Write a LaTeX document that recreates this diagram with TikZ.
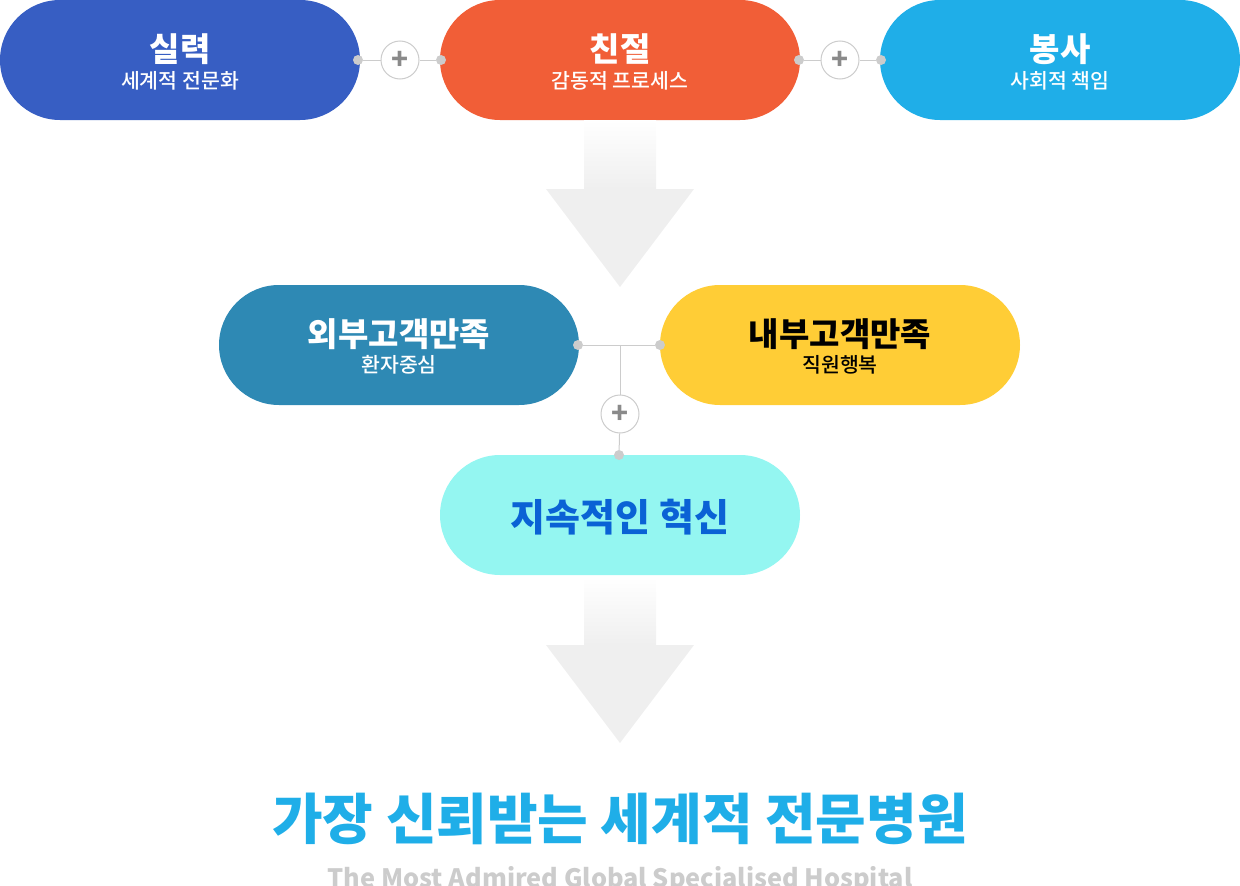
\documentclass[tikz,border=0pt]{standalone}
\usepackage{fontspec}
\setmainfont{Noto Sans CJK KR}
\newfontfamily\krmed{Noto Sans CJK KR Medium}
\usetikzlibrary{shadings}
\definecolor{skillblue}{HTML}{375EC3}
\definecolor{kindorange}{HTML}{F15E37}
\definecolor{servesky}{HTML}{1FAEE8}
\definecolor{outerteal}{HTML}{2E89B4}
\definecolor{inneryellow}{HTML}{FFCD36}
\definecolor{innovcyan}{HTML}{94F6F1}
\definecolor{innovtext}{HTML}{0A62D5}
\definecolor{linegray}{HTML}{CCCCCC}
\definecolor{plusgray}{HTML}{8A8A8A}
\definecolor{arrowgray}{HTML}{EFEFEF}
\tikzset{
  pill/.style={rectangle, rounded corners=60pt, minimum width=360pt,
    minimum height=120pt, inner sep=0pt, draw=none},
  head/.style={anchor=base, text=white, font=\fontsize{33}{33}\selectfont\bfseries},
  sub/.style={anchor=base, text=white, font=\fontsize{20.5}{21}\selectfont\krmed},
  dot/.style={circle, fill=linegray, minimum size=10pt, inner sep=0pt},
  plus/.style={circle, draw=linegray, fill=white, line width=1pt,
    minimum size=38pt, inner sep=0pt, text=plusgray,
    font=\fontsize{28}{28}\selectfont\bfseries},
  link/.style={draw=linegray, line width=1pt},
  bigarrow/.style={fill=arrowgray, draw=none},
}
\begin{document}
\begin{tikzpicture}[x=1pt, y=-1pt]
  \useasboundingbox (0,0) rectangle (1240,886);
  % top row
  \node[pill, fill=skillblue] (skill) at (180,60) {};
  \node[pill, fill=kindorange] (kind) at (620,60) {};
  \node[pill, fill=servesky] (serve) at (1060,60) {};
  \node[head] at (180,61) {실력};
  \node[sub] at (180,88) {세계적 전문화};
  \node[head] at (620,61) {친절};
  \node[sub] at (620,88) {감동적 프로세스};
  \node[head] at (1060,61) {봉사};
  \node[sub] at (1060,88) {사회적 책임};
  % plus links
  \node[dot] (d1) at (358,60) {};
  \node[plus] (p1) at (400,60) {+};
  \node[dot] (d2) at (441,60) {};
  \node[dot] (d3) at (799,60) {};
  \node[plus] (p2) at (840,60) {+};
  \node[dot] (d4) at (881,60) {};
  \begin{scope}[link]
    \draw (d1) to (p1);
    \draw (p1) to (d2);
    \draw (d3) to (p2);
    \draw (p2) to (d4);
  \end{scope}
  % first arrow
  \shade[top color=white, bottom color=arrowgray, draw=none]
    (584,120) rectangle (656,189);
  \fill[bigarrow] (546,189) -- (694,189) -- (620,287) -- cycle;
  % middle row
  \node[pill, fill=outerteal] (outer) at (399,345) {};
  \node[pill, fill=inneryellow] (inner) at (840,345) {};
  \node[head] at (399,346) {외부고객만족};
  \node[sub] at (399,372) {환자중심};
  \node[head, text=black] at (840,346) {내부고객만족};
  \node[sub, text=black] at (840,372) {직원행복};
  \node[pill, fill=innovcyan] (innov) at (620,515) {};
  \node[anchor=base, text=innovtext, font=\fontsize{38}{38}\selectfont\bfseries]
    at (620,531) {지속적인 혁신};
  \node[dot] (d5) at (578,345) {};
  \node[dot] (d6) at (660,345) {};
  \coordinate (j) at (620,345);
  \node[plus] (p3) at (620,414) {+};
  \node[dot] (d7) at (619,455) {};
  \begin{scope}[link]
    \draw (d5) to (d6);
    \draw (j) to (p3);
    \draw (p3) to (d7);
  \end{scope}
  % second arrow
  \shade[top color=white, bottom color=arrowgray, draw=none]
    (584,577) rectangle (656,645);
  \fill[bigarrow] (546,645) -- (694,645) -- (620,743) -- cycle;
  % vision
  \node[anchor=base, text=servesky, font=\fontsize{55}{55}\selectfont\bfseries]
    (vision) at (620,839) {가장 신뢰받는 세계적 전문병원};
  \node[anchor=base, text=linegray, font=\fontsize{25.3}{26}\selectfont\bfseries]
    (motto) at (620,887) {The Most Admired Global Specialised Hospital};
\end{tikzpicture}
\end{document}
